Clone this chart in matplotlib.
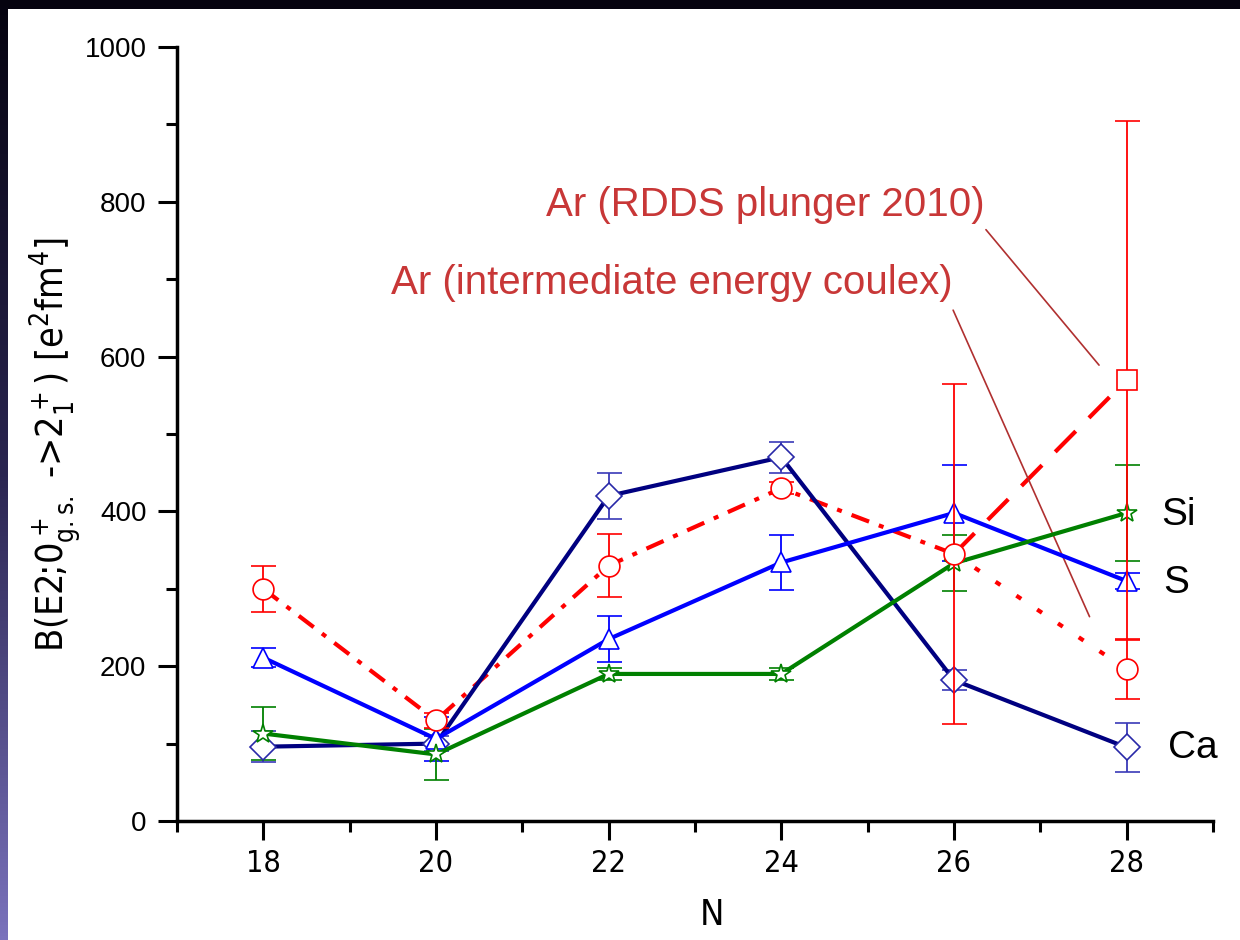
import numpy as np
import matplotlib
matplotlib.use("Agg")
import matplotlib.pyplot as plt
from matplotlib import font_manager

plt.rcParams['font.family'] = ['Liberation Sans', 'DejaVu Sans']

# condensed face for the axis labels, if one is installed
fonts = font_manager.fontManager.ttflist
if any(f.name == 'Liberation Sans Narrow' for f in fonts):
    NARROW, STRETCH = 'Liberation Sans Narrow', 'normal'
elif any(f.name == 'DejaVu Sans' and f.stretch == 'condensed' for f in fonts):
    NARROW, STRETCH = 'DejaVu Sans', 'condensed'
else:
    NARROW, STRETCH = 'Liberation Sans', 'normal'

plt.rcParams['mathtext.fontset'] = 'custom'
plt.rcParams['mathtext.rm'] = NARROW + ':stretch=' + STRETCH
plt.rcParams['mathtext.it'] = NARROW + ':italic'

# neutron numbers
N = [18, 20, 22, 24, 26, 28]

# B(E2) values
ca_val = [96, 100, 420, 470, 182, 95]
ca_err = [20, 10, 30, 20, 13, 32]

s_val = [211, 106, 235, 334, 398, 310]
s_err = [12, 28, 30, 36, 62, 10]

si_val = [113, 86, 190, 190, 333, 398]
si_err = [34, 33, 8, 8, 36, 62]

ar_coulex_val = [300, 130, 330, 430, 345, 196]
ar_coulex_err = [30, 10, 41, 8, 220, 38]

ar_rdds_N = [26, 28]
ar_rdds_val = [345, 570]
ar_rdds_err = [0, 335]

NAVY = '#000080'
BLUE = '#0000ff'
GREEN = '#008000'
RED = '#ff0000'
ANNOT = '#c83737'

fig = plt.figure(figsize=(12.4, 9.4), dpi=100)

# dark slide frame on top and left
top = fig.add_axes([0, 1 - 9 / 940, 1, 9 / 940])
top.set_facecolor('#05030f')
top.set_xticks([]); top.set_yticks([])
for s in top.spines.values():
    s.set_visible(False)
left = fig.add_axes([0, 0, 8 / 1240, 1])
grad = np.linspace(0, 1, 256).reshape(-1, 1)
cmap = matplotlib.colors.LinearSegmentedColormap.from_list('frame', ['#7a72bc', '#2a2550', '#05030f'])
left.imshow(grad, aspect='auto', cmap=cmap, origin='lower')
left.set_axis_off()

ax = fig.add_axes([177 / 1240, 1 - 821 / 940, (1213 - 177) / 1240, (821 - 47) / 940])

LW = 3.0
mk = dict(markersize=15, markerfacecolor='white', markeredgewidth=1.2)
eb = dict(elinewidth=1.3, capsize=9, capthick=1.3)

# Ar coulex: dash-dot up to N=26, dotted afterwards
ax.plot(N[:5], ar_coulex_val[:5], color=RED, lw=LW, dashes=(4.5, 2.5, 1.2, 2.5), zorder=2)
ax.plot(N[4:], ar_coulex_val[4:], color=RED, lw=LW, dashes=(1.4, 4.6), zorder=2)
ax.errorbar(N, ar_coulex_val, yerr=ar_coulex_err, fmt='o', color=RED,
            markeredgecolor=RED, ecolor=RED, zorder=5, **mk, **eb)

# Ar RDDS
ax.plot(ar_rdds_N, ar_rdds_val, color=RED, lw=LW, dashes=(7, 4.5), zorder=2)
ax.errorbar(ar_rdds_N[1:], ar_rdds_val[1:], yerr=ar_rdds_err[1:], fmt='s', color=RED,
            markeredgecolor=RED, ecolor=RED, zorder=5, **mk, **eb)

# Ca
ax.errorbar(N, ca_val, yerr=ca_err, fmt='-D', color=NAVY, lw=LW, markeredgecolor='#2828a8',
            ecolor='#3a3ab8', zorder=3, **dict(mk, markersize=13), **eb)
# S
ax.errorbar(N, s_val, yerr=s_err, fmt='-^', color=BLUE, lw=LW, markeredgecolor=BLUE,
            ecolor=BLUE, zorder=3, **mk, **eb)
# Si
ax.errorbar(N, si_val, yerr=si_err, fmt='-*', color=GREEN, lw=LW, markeredgecolor=GREEN,
            ecolor=GREEN, zorder=3, **mk, **eb)

ax.set_xlim(17, 29)
ax.set_ylim(0, 1000)
ax.set_xticks(N)
ax.set_xticks([17, 19, 21, 23, 25, 27, 29], minor=True)
ax.set_yticks(np.arange(0, 1001, 200))
ax.set_yticks(np.arange(100, 1000, 200), minor=True)
for sp in ['top', 'right']:
    ax.spines[sp].set_visible(False)
for sp in ['left', 'bottom']:
    ax.spines[sp].set_linewidth(2.5)
ax.tick_params(which='major', length=14, width=2.2, labelsize=20)
ax.tick_params(which='minor', length=8, width=2.2)
ax.tick_params(axis='y', pad=8)
ax.tick_params(axis='x', pad=6)
for lab in ax.get_xticklabels():
    lab.set_family(NARROW)
    lab.set_stretch(STRETCH)
    lab.set_fontsize(22)

ax.set_xlabel('N', fontsize=26, family=NARROW, stretch=STRETCH)
ax.xaxis.set_label_coords(0.516, -0.1)
ax.set_ylabel(r'B(E2;0$^+_{\rm g.s.}$ ->2$^+_1$) [e$^2$fm$^4$]', fontsize=27,
              family=NARROW, stretch=STRETCH)
ax.yaxis.set_label_coords(-0.09, 0.486)

# series labels
ax.text(28.4, 395, 'Si', fontsize=28, va='center', ha='left')
ax.text(28.42, 307, 'S', fontsize=28, va='center', ha='left')
ax.text(28.48, 94, 'Ca', fontsize=28, va='center', ha='left')

# Ar annotations
ax.text(23.82, 796, 'Ar (RDDS plunger 2010)', fontsize=29, color=ANNOT, ha='center', va='center')
ax.text(22.73, 695, 'Ar (intermediate energy coulex)', fontsize=29, color=ANNOT, ha='center', va='center')
ax.annotate('', xy=(27.68, 589), xytext=(26.37, 764),
            arrowprops=dict(arrowstyle='-', color='#b03030', lw=1.2, shrinkA=0, shrinkB=0))
ax.annotate('', xy=(27.57, 264), xytext=(25.99, 660),
            arrowprops=dict(arrowstyle='-', color='#b03030', lw=1.2, shrinkA=0, shrinkB=0))

fig.savefig('out.png', dpi=100)
